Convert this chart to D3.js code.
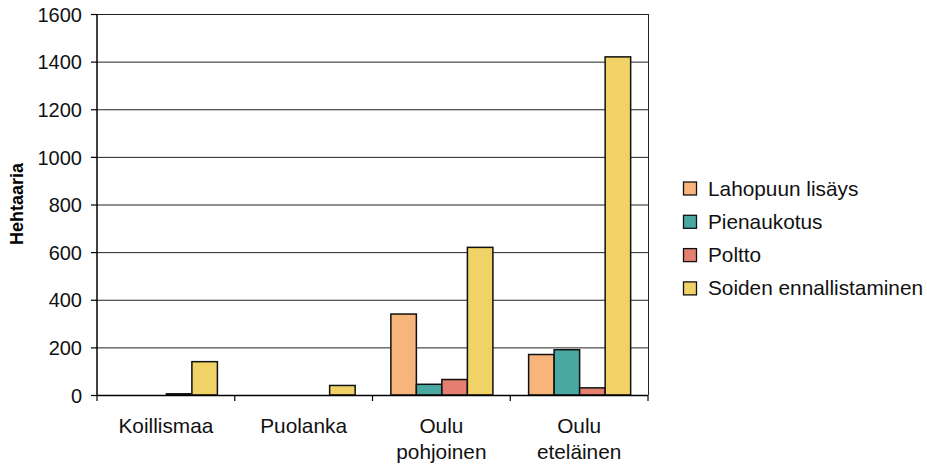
<!DOCTYPE html>
<html><head><meta charset="utf-8">
<script src="https://cdn.jsdelivr.net/npm/d3@7"></script>
<style>body{margin:0;background:#fff;}svg{display:block;font-family:"Liberation Sans",Arial,sans-serif;}</style>
</head><body>
<svg id="c" width="927" height="466"></svg>
<script>
const categories = [["Koillismaa"],["Puolanka"],["Oulu","pohjoinen"],["Oulu","eteläinen"]];
const seriesNames = ["Lahopuun lisäys","Pienaukotus","Poltto","Soiden ennallistaminen"];
const seriesColors = ["#F7B57C","#4AA8A2","#E57F70","#F0D266"];
const lahopuun = [0, 0, 340, 170];
const pienaukotus = [0, 0, 45, 190];
const poltto = [5, 0, 65, 30];
const soiden = [140, 40, 620, 1420];
const yTicks = [0,200,400,600,800,1000,1200,1400,1600];
const seriesValues = [lahopuun, pienaukotus, poltto, soiden];

const svg = d3.select("#c");
const L = 97, R = 648, T = 14, B = 395;
const FS = 20, FL = 20.8;
const y = d3.scaleLinear().domain([0,1600]).range([B,T]);
const x0 = d3.scaleBand().domain(d3.range(categories.length)).range([L,R]).paddingInner(0).paddingOuter(0);
const bw = x0.bandwidth()/5.4;
const x1 = d3.scaleBand().domain(d3.range(seriesNames.length)).range([0.72*bw, 0.72*bw+4*bw]).padding(0);

// gridlines
svg.append("g").selectAll("line").data(yTicks.filter(d=>d>0)).join("line")
  .attr("x1",L).attr("x2",R).attr("y1",d=>y(d)+0.5).attr("y2",d=>y(d)+0.5)
  .attr("stroke","#222").attr("stroke-width",1);
// right border
svg.append("line").attr("x1",R+0.5).attr("x2",R+0.5).attr("y1",T).attr("y2",B).attr("stroke","#222");

// bars
const g = svg.append("g");
seriesValues.forEach((vals,si)=>{
  g.selectAll(null).data(vals).join("rect")
    .attr("x",(d,i)=>x0(i)+x1(si))
    .attr("width",x1.bandwidth())
    .attr("y",d=>y(d))
    .attr("height",d=>B-y(d))
    .attr("fill",seriesColors[si])
    .attr("stroke","#111").attr("stroke-width",1.5)
    .style("display",d=>d>0?null:"none");
});

// y axis
const ya = svg.append("g").attr("transform",`translate(${L},0)`)
  .call(d3.axisLeft(y).tickValues(yTicks).tickSize(6).tickPadding(9).tickFormat(d3.format("d")));
ya.select(".domain").attr("stroke","#000").attr("stroke-width",1.5).attr("d",`M0,${B}V${T}`);
ya.selectAll(".tick line").attr("stroke","#000").attr("stroke-width",1.2);
ya.selectAll(".tick text").attr("font-size",FS).attr("fill","#111").attr("font-family","Liberation Sans, Arial, sans-serif").attr("dy","0.36em");

// x axis
svg.append("line").attr("x1",L).attr("x2",R).attr("y1",B+0.5).attr("y2",B+0.5).attr("stroke","#000").attr("stroke-width",1.5);
const bounds = d3.range(categories.length+1).map(i=> i<categories.length ? x0(i) : R);
svg.append("g").selectAll("line").data(bounds).join("line")
  .attr("x1",d=>d).attr("x2",d=>d).attr("y1",B).attr("y2",B+6).attr("stroke","#000").attr("stroke-width",1.2);
const xl = svg.append("g");
categories.forEach((lines,i)=>{
  const cx = x0(i)+x0.bandwidth()/2;
  const t = xl.append("text").attr("x",cx).attr("y",433)
    .attr("text-anchor","middle").attr("font-size",FL).attr("fill","#111");
  lines.forEach((s,j)=>t.append("tspan").attr("x",cx).attr("dy",j===0?0:26).text(s));
});

// y title
svg.append("text").attr("transform",`translate(23,204) rotate(-90)`)
  .attr("text-anchor","middle").attr("font-size",18).attr("font-weight","bold").attr("fill","#000").text("Hehtaaria");

// legend
const lg = svg.append("g");
seriesNames.forEach((n,i)=>{
  const cy = 188.5 + i*33.3;
  lg.append("rect").attr("x",683.5).attr("y",cy-6.5).attr("width",13).attr("height",13)
    .attr("fill",seriesColors[i]).attr("stroke","#111").attr("stroke-width",1.3);
  lg.append("text").attr("x",708).attr("y",cy+7).attr("font-size",FL).attr("fill","#111").text(n);
});
</script>
</body></html>
